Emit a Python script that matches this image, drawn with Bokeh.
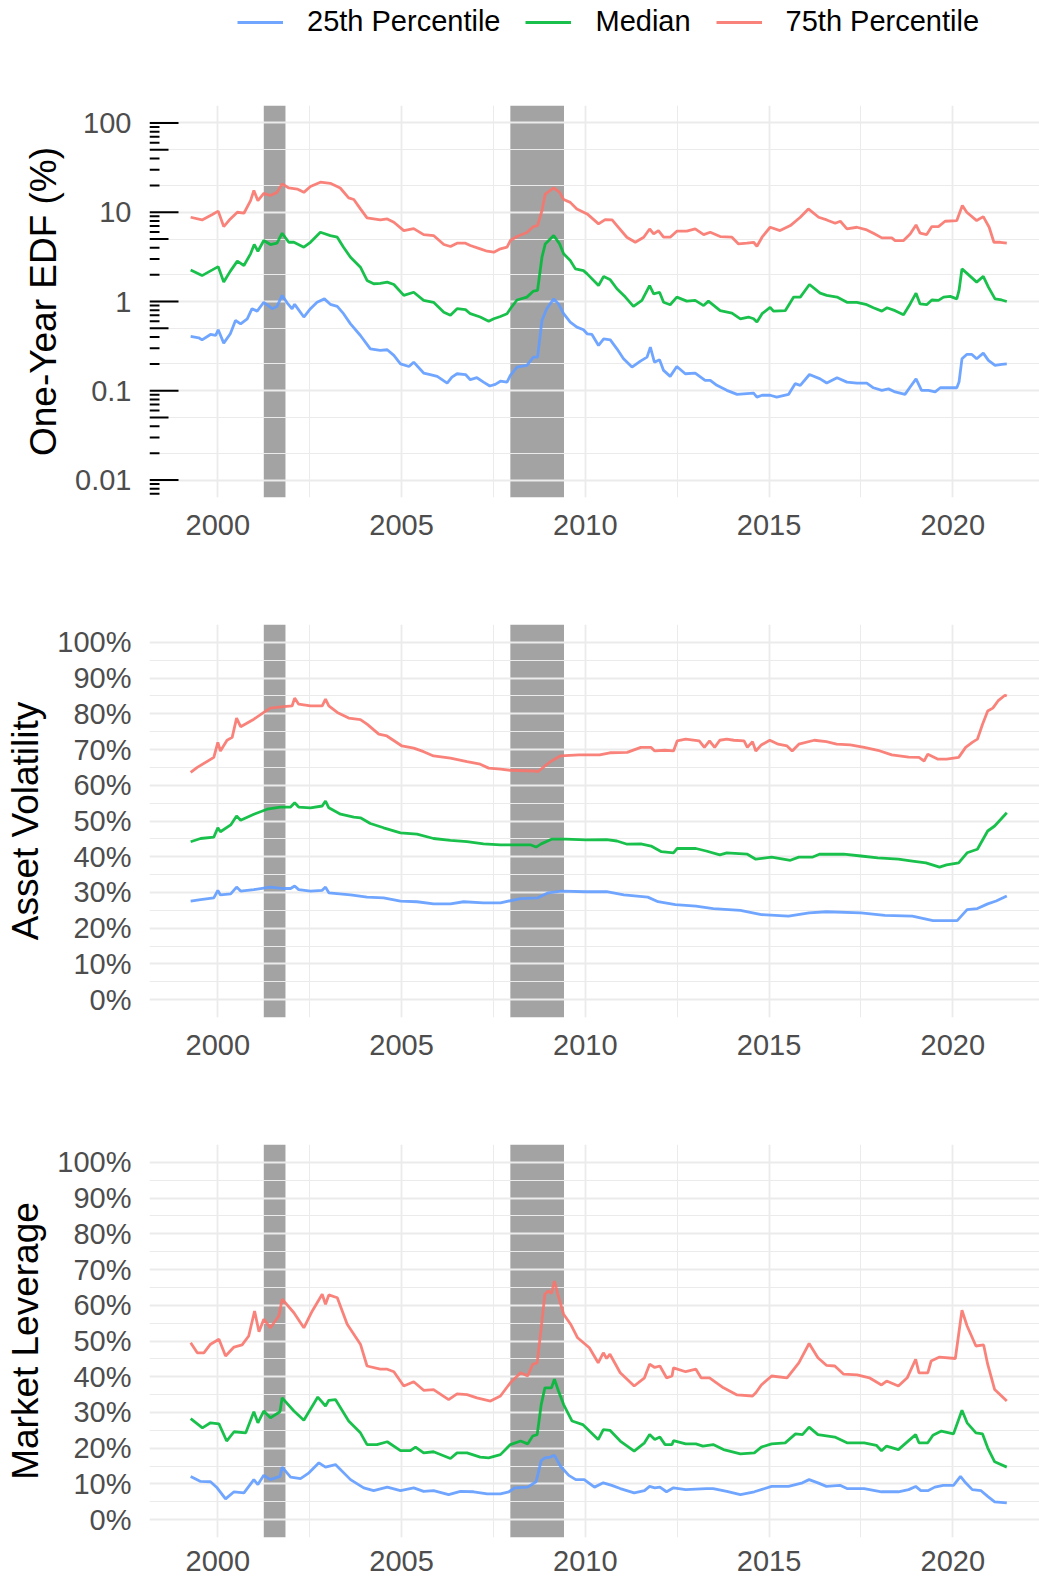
from bokeh.plotting import figure
from bokeh.models import (Range1d, FixedTicker, NumeralTickFormatter, CustomJSTickFormatter,
                          BoxAnnotation, Legend, LegendItem)
from bokeh.layouts import column
from bokeh.embed import file_html
from bokeh.resources import INLINE

FONT = "Liberation Sans"
C25, CMED, C75 = "#619CFF", "#00BA38", "#F8766D"
LABELS = ["25th Percentile", "Median", "75th Percentile"]

REC_START = [2001.25, 2007.96]
REC_END = [2001.84, 2009.42]

X_START, X_END = 1998.14, 2022.36
X_TICKS = [2000, 2005, 2010, 2015, 2020]
X_MINOR = [2002.5, 2007.5, 2012.5, 2017.5]

EDF_TICKS = [0.01, 0.1, 1, 10, 100]
EDF_MINOR = [0.02, 0.05, 0.2, 0.5, 2, 5, 20, 50]
EDF_LO, EDF_HI = 10 ** -2.196, 10 ** 2.196
PCT_TICKS = [0.0, 0.1, 0.2, 0.3, 0.4, 0.5, 0.6, 0.7, 0.8, 0.9, 1.0]
PCT_MINOR = [-0.05, 0.05, 0.15, 0.25, 0.35, 0.45, 0.55, 0.65, 0.75, 0.85, 0.95, 1.05]

# ---------------- One-Year EDF (%) ----------------
edf75_x = [1999.26, 1999.57, 1999.85, 2000.01, 2000.16, 2000.34, 2000.53, 2000.71, 2000.89, 2000.98,
           2001.09, 2001.25, 2001.43, 2001.61, 2001.75, 2001.93, 2002.16, 2002.34, 2002.52, 2002.79,
           2003.06, 2003.33, 2003.56, 2003.70, 2003.88, 2004.06, 2004.42, 2004.61, 2004.79, 2005.06,
           2005.33, 2005.60, 2005.87, 2006.15, 2006.33, 2006.51, 2006.74, 2006.87, 2007.14, 2007.33,
           2007.51, 2007.69, 2007.87, 2007.96, 2008.14, 2008.41, 2008.59, 2008.70, 2008.82, 2008.91,
           2009.14, 2009.30, 2009.41, 2009.59, 2009.77, 2010.05, 2010.36, 2010.54, 2010.73, 2010.86,
           2011.13, 2011.36, 2011.59, 2011.75, 2011.86, 2011.99, 2012.13, 2012.31, 2012.49, 2012.76,
           2012.99, 2013.22, 2013.40, 2013.67, 2013.99, 2014.17, 2014.40, 2014.58, 2014.67, 2014.81,
           2015.03, 2015.30, 2015.58, 2015.85, 2016.07, 2016.35, 2016.57, 2016.80, 2016.94, 2017.12,
           2017.39, 2017.66, 2017.84, 2018.07, 2018.34, 2018.43, 2018.66, 2018.84, 2019.00, 2019.11,
           2019.29, 2019.43, 2019.61, 2019.79, 2020.11, 2020.26, 2020.38, 2020.65, 2020.83, 2020.99,
           2021.12, 2021.29, 2021.47]
edf75_y = [8.79, 8.2, 9.42, 10.3, 6.91, 8.42, 10.0, 9.75, 13.5, 17.5,
           13.5, 16.3, 15.4, 16.7, 20.8, 18.7, 18.2, 16.7, 19.4, 21.7,
           21.1, 18.7, 14.5, 13.9, 10.9, 8.64, 8.2, 8.42, 7.73, 6.23,
           6.56, 5.62, 5.48, 4.35, 4.13, 4.5, 4.5, 4.24, 3.89, 3.66,
           3.57, 3.89, 4.06, 4.82, 5.34, 5.92, 6.91, 7.09, 10.4, 16.0,
           18.7, 16.7, 13.9, 12.9, 10.9, 9.58, 7.4, 8.28, 8.2, 7.09,
           5.25, 4.61, 5.25, 6.5, 5.72, 6.23, 5.25, 5.25, 6.13, 6.13,
           6.5, 5.62, 5.97, 5.34, 5.25, 4.42, 4.5, 4.61, 4.16, 5.25,
           6.79, 6.23, 7.09, 8.79, 10.9, 8.79, 8.2, 7.53, 7.93, 6.5,
           6.79, 6.34, 5.82, 5.16, 5.16, 4.82, 4.82, 5.72, 7.21, 5.82,
           5.62, 6.91, 6.91, 7.93, 8.07, 11.9, 10.0, 8.07, 8.94, 6.79,
           4.61, 4.61, 4.5]

edfmed_x = [1999.26, 1999.57, 1999.85, 2000.01, 2000.16, 2000.34, 2000.53, 2000.71, 2000.89, 2000.99,
            2001.09, 2001.25, 2001.43, 2001.61, 2001.75, 2001.93, 2002.07, 2002.34, 2002.52, 2002.79,
            2003.06, 2003.25, 2003.42, 2003.61, 2003.88, 2004.06, 2004.24, 2004.42, 2004.61, 2004.79,
            2005.06, 2005.33, 2005.60, 2005.87, 2006.15, 2006.33, 2006.51, 2006.74, 2006.87, 2007.14,
            2007.37, 2007.51, 2007.69, 2007.87, 2007.96, 2008.14, 2008.41, 2008.59, 2008.70, 2008.82,
            2008.91, 2009.14, 2009.30, 2009.41, 2009.59, 2009.73, 2009.95, 2010.05, 2010.36, 2010.50,
            2010.68, 2010.86, 2011.09, 2011.31, 2011.54, 2011.75, 2011.86, 2012.02, 2012.13, 2012.31,
            2012.49, 2012.76, 2012.99, 2013.22, 2013.35, 2013.67, 2013.99, 2014.22, 2014.44, 2014.58,
            2014.67, 2014.81, 2015.03, 2015.12, 2015.44, 2015.67, 2015.85, 2016.10, 2016.39, 2016.57,
            2016.85, 2017.12, 2017.39, 2017.66, 2017.84, 2018.07, 2018.21, 2018.43, 2018.66, 2018.84,
            2019.00, 2019.11, 2019.29, 2019.43, 2019.61, 2019.75, 2019.93, 2020.11, 2020.17, 2020.25,
            2020.38, 2020.65, 2020.83, 2020.97, 2021.15, 2021.33, 2021.47]
edfmed_y = [2.26, 1.95, 2.26, 2.46, 1.65, 2.19, 2.83, 2.53, 3.42, 4.35,
            3.66, 4.82, 4.35, 4.5, 5.82, 4.61, 4.61, 4.06, 4.61, 5.97,
            5.48, 5.25, 4.06, 3.13, 2.42, 1.72, 1.58, 1.6, 1.65, 1.55,
            1.17, 1.27, 1.03, 0.98, 0.76, 0.70, 0.83, 0.81, 0.73, 0.67,
            0.60, 0.64, 0.68, 0.73, 0.83, 1.04, 1.12, 1.31, 1.33, 3.13,
            4.42, 5.48, 4.42, 3.42, 2.88, 2.32, 2.22, 2.04, 1.51, 1.91,
            1.75, 1.39, 1.12, 0.88, 1.03, 1.51, 1.22, 1.27, 0.98, 0.92,
            1.12, 1.01, 1.03, 0.90, 1.01, 0.79, 0.74, 0.64, 0.67, 0.64,
            0.59, 0.73, 0.86, 0.78, 0.79, 1.12, 1.12, 1.55, 1.24, 1.17,
            1.12, 0.98, 0.98, 0.92, 0.85, 0.78, 0.85, 0.79, 0.71, 0.94,
            1.24, 0.94, 0.92, 1.04, 1.03, 1.12, 1.14, 1.07, 1.33, 2.32,
            2.08, 1.65, 1.91, 1.45, 1.07, 1.04, 1.0]

edf25_x = [1999.26, 1999.48, 1999.57, 1999.80, 1999.94, 2000.01, 2000.16, 2000.34, 2000.48, 2000.62,
           2000.80, 2000.93, 2001.07, 2001.25, 2001.48, 2001.61, 2001.75, 2001.89, 2002.02, 2002.09,
           2002.34, 2002.52, 2002.70, 2002.90, 2003.06, 2003.25, 2003.42, 2003.61, 2003.88, 2004.15,
           2004.42, 2004.61, 2004.79, 2004.97, 2005.20, 2005.33, 2005.60, 2005.78, 2005.97, 2006.24,
           2006.37, 2006.51, 2006.74, 2006.87, 2007.05, 2007.23, 2007.40, 2007.55, 2007.69, 2007.87,
           2007.96, 2008.14, 2008.41, 2008.59, 2008.70, 2008.82, 2008.95, 2009.14, 2009.27, 2009.41,
           2009.59, 2009.77, 2009.95, 2010.05, 2010.18, 2010.36, 2010.50, 2010.68, 2010.86, 2011.04,
           2011.27, 2011.50, 2011.68, 2011.77, 2011.88, 2012.02, 2012.13, 2012.31, 2012.49, 2012.72,
           2012.99, 2013.26, 2013.40, 2013.58, 2013.85, 2014.13, 2014.40, 2014.58, 2014.67, 2014.81,
           2015.03, 2015.21, 2015.53, 2015.71, 2015.85, 2016.10, 2016.39, 2016.57, 2016.85, 2017.12,
           2017.39, 2017.66, 2017.84, 2018.07, 2018.25, 2018.43, 2018.70, 2018.84, 2019.00, 2019.15,
           2019.34, 2019.52, 2019.66, 2019.93, 2020.11, 2020.17, 2020.25, 2020.38, 2020.52, 2020.65,
           2020.83, 2020.97, 2021.15, 2021.33, 2021.47]
edf25_y = [0.406, 0.392, 0.372, 0.427, 0.416, 0.482, 0.342, 0.435, 0.612, 0.562,
           0.64, 0.83, 0.78, 0.98, 0.83, 0.88, 1.17, 0.96, 0.83, 0.93,
           0.67, 0.83, 0.98, 1.07, 0.93, 0.88, 0.73, 0.562, 0.416, 0.295,
           0.283, 0.288, 0.249, 0.200, 0.187, 0.209, 0.158, 0.152, 0.145, 0.122,
           0.142, 0.155, 0.152, 0.133, 0.140, 0.125, 0.113, 0.118, 0.128, 0.125,
           0.149, 0.184, 0.192, 0.238, 0.238, 0.612, 0.83, 1.07, 0.94, 0.73,
           0.587, 0.516, 0.482, 0.435, 0.427, 0.322, 0.382, 0.372, 0.295, 0.228,
           0.184, 0.215, 0.238, 0.308, 0.209, 0.222, 0.169, 0.145, 0.187, 0.155,
           0.158, 0.131, 0.131, 0.115, 0.101, 0.091, 0.093, 0.094, 0.085, 0.089,
           0.089, 0.085, 0.091, 0.120, 0.115, 0.152, 0.136, 0.122, 0.140, 0.125,
           0.122, 0.122, 0.108, 0.101, 0.105, 0.097, 0.091, 0.110, 0.136, 0.101,
           0.101, 0.097, 0.108, 0.108, 0.108, 0.125, 0.228, 0.255, 0.255, 0.228,
           0.264, 0.219, 0.192, 0.197, 0.200]

# ---------------- Asset Volatility ----------------
vol75_x = [1999.26, 1999.44, 1999.89, 2000.00, 2000.07, 2000.25, 2000.39, 2000.51, 2000.62, 2000.98,
           2001.25, 2001.43, 2001.79, 2002.02, 2002.09, 2002.20, 2002.52, 2002.84, 2002.93, 2003.02,
           2003.25, 2003.56, 2003.88, 2004.06, 2004.38, 2004.60, 2005.01, 2005.33, 2005.60, 2005.87,
           2006.33, 2006.78, 2007.14, 2007.37, 2007.69, 2007.96, 2008.62, 2008.71, 2008.90, 2009.08,
           2009.32, 2009.83, 2010.39, 2010.67, 2011.14, 2011.51, 2011.79, 2011.89, 2012.17, 2012.40,
           2012.50, 2012.73, 2013.10, 2013.24, 2013.38, 2013.52, 2013.66, 2013.85, 2014.04, 2014.32,
           2014.41, 2014.55, 2014.64, 2014.79, 2015.02, 2015.25, 2015.49, 2015.63, 2015.81, 2016.23,
           2016.56, 2016.84, 2017.21, 2017.59, 2017.96, 2018.34, 2018.80, 2019.08, 2019.22, 2019.32,
           2019.60, 2019.83, 2020.16, 2020.35, 2020.53, 2020.67, 2020.81, 2020.95, 2021.09, 2021.23,
           2021.42, 2021.47]
vol75_y = [0.636, 0.650, 0.678, 0.720, 0.696, 0.726, 0.734, 0.788, 0.764, 0.785,
           0.804, 0.816, 0.820, 0.822, 0.844, 0.827, 0.822, 0.822, 0.841, 0.822,
           0.804, 0.788, 0.784, 0.771, 0.743, 0.738, 0.710, 0.704, 0.694, 0.682,
           0.676, 0.666, 0.659, 0.648, 0.645, 0.642, 0.640, 0.638, 0.654, 0.668,
           0.682, 0.685, 0.685, 0.691, 0.692, 0.706, 0.706, 0.696, 0.698, 0.696,
           0.724, 0.729, 0.724, 0.706, 0.724, 0.706, 0.726, 0.729, 0.726, 0.724,
           0.706, 0.722, 0.696, 0.713, 0.726, 0.715, 0.710, 0.696, 0.715, 0.726,
           0.722, 0.715, 0.713, 0.706, 0.698, 0.685, 0.679, 0.678, 0.668, 0.687,
           0.673, 0.673, 0.678, 0.706, 0.720, 0.729, 0.771, 0.808, 0.816, 0.836,
           0.852, 0.850]

volmed_x = [1999.26, 1999.53, 1999.89, 2000.00, 2000.07, 2000.35, 2000.51, 2000.62, 2000.98, 2001.34,
            2001.70, 2001.98, 2002.09, 2002.20, 2002.52, 2002.84, 2002.93, 2003.02, 2003.34, 2003.70,
            2003.88, 2004.15, 2004.51, 2004.97, 2005.42, 2005.87, 2006.33, 2006.78, 2007.23, 2007.69,
            2008.52, 2008.66, 2008.80, 2009.08, 2009.46, 2010.02, 2010.58, 2010.86, 2011.14, 2011.51,
            2011.79, 2012.07, 2012.40, 2012.50, 2013.01, 2013.29, 2013.66, 2013.85, 2014.41, 2014.64,
            2015.07, 2015.58, 2015.81, 2016.19, 2016.37, 2017.03, 2017.50, 2017.96, 2018.52, 2018.90,
            2019.27, 2019.64, 2019.83, 2020.16, 2020.39, 2020.67, 2020.95, 2021.14, 2021.47]
volmed_y = [0.442, 0.451, 0.455, 0.481, 0.470, 0.489, 0.514, 0.502, 0.519, 0.533,
            0.539, 0.539, 0.551, 0.539, 0.537, 0.542, 0.556, 0.537, 0.519, 0.511,
            0.509, 0.493, 0.481, 0.467, 0.463, 0.451, 0.446, 0.442, 0.436, 0.433,
            0.433, 0.427, 0.436, 0.449, 0.449, 0.447, 0.448, 0.444, 0.435, 0.436,
            0.430, 0.414, 0.411, 0.423, 0.423, 0.416, 0.405, 0.411, 0.407, 0.393,
            0.399, 0.390, 0.399, 0.399, 0.407, 0.407, 0.402, 0.397, 0.393, 0.388,
            0.383, 0.371, 0.377, 0.383, 0.411, 0.421, 0.472, 0.486, 0.523]

vol25_x = [1999.26, 1999.53, 1999.89, 2000.00, 2000.07, 2000.35, 2000.51, 2000.62, 2000.98, 2001.43,
           2001.79, 2001.98, 2002.09, 2002.20, 2002.52, 2002.84, 2002.93, 2003.02, 2003.61, 2004.06,
           2004.51, 2004.97, 2005.42, 2005.87, 2006.33, 2006.69, 2007.23, 2007.69, 2008.24, 2008.71,
           2008.99, 2009.36, 2010.02, 2010.58, 2011.05, 2011.70, 2011.98, 2012.45, 2013.01, 2013.48,
           2014.22, 2014.79, 2015.53, 2016.09, 2016.56, 2017.50, 2018.15, 2018.90, 2019.46, 2020.12,
           2020.39, 2020.67, 2020.95, 2021.18, 2021.47]
vol25_y = [0.276, 0.280, 0.285, 0.306, 0.293, 0.296, 0.315, 0.304, 0.308, 0.315,
           0.311, 0.311, 0.318, 0.308, 0.304, 0.306, 0.315, 0.299, 0.293, 0.287,
           0.285, 0.276, 0.274, 0.268, 0.268, 0.274, 0.271, 0.271, 0.283, 0.285,
           0.299, 0.304, 0.302, 0.302, 0.293, 0.287, 0.274, 0.266, 0.262, 0.255,
           0.250, 0.238, 0.234, 0.243, 0.246, 0.243, 0.236, 0.234, 0.221, 0.221,
           0.252, 0.255, 0.268, 0.276, 0.290]

# ---------------- Market Leverage ----------------
lev75_x = [1999.26, 1999.44, 1999.62, 1999.80, 2000.03, 2000.21, 2000.44, 2000.66, 2000.84, 2001.00,
           2001.12, 2001.25, 2001.43, 2001.66, 2001.75, 2002.07, 2002.34, 2002.57, 2002.84, 2002.93,
           2003.02, 2003.25, 2003.52, 2003.88, 2004.06, 2004.42, 2004.61, 2004.79, 2005.06, 2005.33,
           2005.60, 2005.87, 2006.28, 2006.51, 2006.78, 2007.05, 2007.42, 2007.69, 2007.96, 2008.24,
           2008.43, 2008.57, 2008.69, 2008.80, 2008.90, 2008.99, 2009.08, 2009.16, 2009.25, 2009.41,
           2009.60, 2009.79, 2010.11, 2010.35, 2010.49, 2010.58, 2010.67, 2010.95, 2011.33, 2011.61,
           2011.75, 2011.89, 2012.03, 2012.21, 2012.36, 2012.40, 2012.73, 2013.01, 2013.15, 2013.38,
           2013.76, 2014.13, 2014.55, 2014.64, 2014.79, 2015.07, 2015.49, 2015.81, 2016.09, 2016.33,
           2016.56, 2016.79, 2017.03, 2017.40, 2017.73, 2018.06, 2018.20, 2018.52, 2018.76, 2018.99,
           2019.08, 2019.32, 2019.41, 2019.64, 2020.07, 2020.25, 2020.39, 2020.63, 2020.84, 2020.95,
           2021.14, 2021.47]
lev75_y = [0.495, 0.467, 0.467, 0.491, 0.505, 0.458, 0.483, 0.489, 0.514, 0.584,
           0.526, 0.561, 0.537, 0.570, 0.617, 0.579, 0.537, 0.584, 0.631, 0.603,
           0.629, 0.621, 0.547, 0.491, 0.430, 0.421, 0.421, 0.414, 0.374, 0.386,
           0.362, 0.364, 0.336, 0.352, 0.350, 0.341, 0.332, 0.346, 0.383, 0.411,
           0.402, 0.435, 0.439, 0.537, 0.631, 0.640, 0.633, 0.668, 0.631, 0.575,
           0.547, 0.509, 0.481, 0.439, 0.467, 0.451, 0.463, 0.411, 0.374, 0.397,
           0.435, 0.426, 0.430, 0.397, 0.402, 0.425, 0.414, 0.421, 0.397, 0.397,
           0.369, 0.349, 0.346, 0.355, 0.377, 0.402, 0.397, 0.439, 0.493, 0.453,
           0.432, 0.430, 0.407, 0.405, 0.397, 0.377, 0.388, 0.374, 0.397, 0.449,
           0.411, 0.411, 0.444, 0.455, 0.451, 0.586, 0.542, 0.486, 0.489, 0.435,
           0.364, 0.332]

levmed_x = [1999.26, 1999.58, 1999.80, 2000.03, 2000.24, 2000.44, 2000.76, 2000.98, 2001.09, 2001.25,
            2001.43, 2001.69, 2001.75, 2002.07, 2002.34, 2002.72, 2002.93, 2003.02, 2003.20, 2003.56,
            2003.88, 2004.06, 2004.33, 2004.61, 2004.97, 2005.24, 2005.38, 2005.60, 2005.87, 2006.33,
            2006.51, 2006.78, 2007.14, 2007.37, 2007.69, 2007.96, 2008.24, 2008.43, 2008.57, 2008.69,
            2008.80, 2008.90, 2009.08, 2009.16, 2009.27, 2009.41, 2009.64, 2009.93, 2010.35, 2010.49,
            2010.67, 2010.95, 2011.33, 2011.61, 2011.75, 2011.89, 2012.03, 2012.17, 2012.36, 2012.40,
            2012.73, 2013.01, 2013.20, 2013.48, 2013.76, 2014.22, 2014.60, 2014.79, 2015.07, 2015.44,
            2015.72, 2015.91, 2016.09, 2016.33, 2016.79, 2017.12, 2017.59, 2017.92, 2018.06, 2018.20,
            2018.52, 2018.80, 2018.99, 2019.08, 2019.32, 2019.46, 2019.69, 2020.02, 2020.25, 2020.39,
            2020.63, 2020.81, 2020.95, 2021.14, 2021.47]
levmed_y = [0.283, 0.257, 0.271, 0.268, 0.220, 0.246, 0.243, 0.302, 0.271, 0.304,
            0.285, 0.302, 0.341, 0.304, 0.278, 0.343, 0.318, 0.334, 0.336, 0.276,
            0.243, 0.210, 0.210, 0.218, 0.193, 0.193, 0.203, 0.187, 0.190, 0.171,
            0.187, 0.187, 0.175, 0.173, 0.182, 0.210, 0.220, 0.212, 0.234, 0.238,
            0.322, 0.369, 0.369, 0.393, 0.360, 0.322, 0.276, 0.266, 0.224, 0.252,
            0.250, 0.220, 0.192, 0.215, 0.238, 0.224, 0.231, 0.210, 0.210, 0.221,
            0.212, 0.212, 0.206, 0.210, 0.196, 0.184, 0.187, 0.203, 0.212, 0.215,
            0.240, 0.238, 0.259, 0.238, 0.231, 0.215, 0.215, 0.208, 0.193, 0.206,
            0.196, 0.221, 0.238, 0.215, 0.215, 0.236, 0.248, 0.240, 0.306, 0.271,
            0.243, 0.240, 0.201, 0.162, 0.147]

lev25_x = [1999.26, 1999.53, 1999.80, 1999.98, 2000.21, 2000.44, 2000.71, 2000.98, 2001.09, 2001.25,
           2001.43, 2001.69, 2001.75, 2001.98, 2002.25, 2002.48, 2002.75, 2002.93, 2003.20, 2003.61,
           2003.97, 2004.24, 2004.61, 2004.97, 2005.33, 2005.60, 2005.87, 2006.28, 2006.60, 2006.96,
           2007.33, 2007.69, 2007.92, 2008.08, 2008.43, 2008.66, 2008.80, 2008.90, 2009.04, 2009.16,
           2009.32, 2009.55, 2009.74, 2009.97, 2010.25, 2010.49, 2010.72, 2010.95, 2011.33, 2011.61,
           2011.75, 2011.89, 2012.03, 2012.21, 2012.40, 2012.73, 2013.29, 2013.48, 2013.85, 2014.22,
           2014.60, 2015.07, 2015.53, 2015.91, 2016.09, 2016.33, 2016.56, 2016.93, 2017.12, 2017.59,
           2018.06, 2018.52, 2018.80, 2018.99, 2019.13, 2019.32, 2019.51, 2019.74, 2020.02, 2020.21,
           2020.35, 2020.53, 2020.77, 2020.95, 2021.14, 2021.47]
lev25_y = [0.121, 0.107, 0.106, 0.089, 0.058, 0.078, 0.075, 0.112, 0.098, 0.124,
           0.112, 0.121, 0.147, 0.119, 0.115, 0.131, 0.159, 0.147, 0.154, 0.112,
           0.089, 0.081, 0.091, 0.081, 0.089, 0.079, 0.081, 0.070, 0.079, 0.078,
           0.072, 0.072, 0.078, 0.089, 0.091, 0.106, 0.165, 0.173, 0.175, 0.180,
           0.150, 0.124, 0.112, 0.112, 0.091, 0.103, 0.096, 0.087, 0.075, 0.081,
           0.093, 0.089, 0.091, 0.078, 0.089, 0.084, 0.087, 0.087, 0.079, 0.070,
           0.078, 0.093, 0.093, 0.103, 0.112, 0.103, 0.093, 0.096, 0.087, 0.087,
           0.078, 0.078, 0.084, 0.093, 0.081, 0.081, 0.091, 0.096, 0.096, 0.121,
           0.103, 0.084, 0.081, 0.065, 0.050, 0.047]

# log tick marks (annotation_logticks style)
LOG_LONG = [0.01, 0.1, 1, 10, 100]
LOG_MID = [0.05, 0.5, 5, 50]
LOG_SHORT = [m * 10.0 ** k for k in range(-3, 2) for m in (2, 3, 4, 6, 7, 8, 9)
             if EDF_LO <= m * 10.0 ** k <= EDF_HI]

W = 1039
BORDER_L = 149
GRID = "#EBEBEB"
TICK_COL = "#4D4D4D"
LW = 2.8


def make_panel(height, b_top, b_bottom, y_range, y_type, title, x_standoff):
    p = figure(width=W, height=height, x_range=Range1d(X_START, X_END), y_range=y_range,
               y_axis_type=y_type, output_backend="svg", toolbar_location=None,
               min_border_left=BORDER_L, min_border_right=0, min_border_top=b_top,
               min_border_bottom=b_bottom)
    p.outline_line_color = None
    p.background_fill_color = "white"
    p.border_fill_color = "white"
    for ax in (p.xaxis[0], p.yaxis[0]):
        ax.axis_line_color = None
        ax.major_tick_out = 0
        ax.major_tick_in = 0
        ax.minor_tick_out = 0
        ax.minor_tick_in = 0
        ax.major_label_text_font = FONT
        ax.major_label_text_font_size = "29px"
        ax.major_label_text_color = TICK_COL
    p.xaxis.ticker = FixedTicker(ticks=X_TICKS, minor_ticks=X_MINOR)
    p.xaxis.major_label_standoff = x_standoff
    p.yaxis.major_label_standoff = 18
    p.yaxis.axis_label = title
    p.yaxis.axis_label_text_font = FONT
    p.yaxis.axis_label_text_font_size = "37px"
    p.yaxis.axis_label_text_font_style = "normal"
    p.yaxis.axis_label_text_color = "black"
    p.yaxis.axis_label_standoff = 8
    p.xgrid.ticker = FixedTicker(ticks=X_TICKS, minor_ticks=X_MINOR)
    for g in (p.xgrid[0], p.ygrid[0]):
        g.grid_line_color = GRID
        g.grid_line_width = 1.8
        g.minor_grid_line_color = GRID
        g.minor_grid_line_width = 1.0
    for s, e in zip(REC_START, REC_END):
        p.add_layout(BoxAnnotation(left=s, right=e, fill_color="#A3A3A3", fill_alpha=1.0,
                                   line_color=None, level="image"))
    return p


def add_lines(p, xs25, ys25, xsm, ysm, xs75, ys75, lw=LW):
    r25 = p.line(xs25, ys25, line_color=C25, line_width=lw, line_alpha=0.9)
    rm = p.line(xsm, ysm, line_color=CMED, line_width=lw, line_alpha=0.9)
    r75 = p.line(xs75, ys75, line_color=C75, line_width=lw, line_alpha=0.9)
    return r25, rm, r75


# Legend strip on top; its frame is aligned with the panels' frames (left edge at 149 px)
LEG_H = 60
pl = figure(width=W, height=LEG_H, x_range=Range1d(0, 1), y_range=Range1d(0, 1),
            output_backend="svg", toolbar_location=None, x_axis_location=None,
            y_axis_location=None, min_border_left=BORDER_L, min_border_right=0,
            min_border_top=0, min_border_bottom=0)
pl.outline_line_color = None
pl.xgrid.visible = False
pl.ygrid.visible = False
# legend carriers: the EDF series themselves, which fall outside this strip's 0..1 ranges
k25, kmed, k75 = add_lines(pl, edf25_x, edf25_y, edfmed_x, edfmed_y, edf75_x, edf75_y, lw=3)
legend = Legend(items=[LegendItem(label=LABELS[0], renderers=[k25]),
                       LegendItem(label=LABELS[1], renderers=[kmed]),
                       LegendItem(label=LABELS[2], renderers=[k75])],
                orientation="horizontal", location=(88, 22),
                label_text_font=FONT, label_text_font_size="29px", label_text_color="black",
                glyph_width=46, glyph_height=32, label_height=32, label_standoff=24, spacing=25,
                padding=0, margin=0, background_fill_alpha=0, border_line_alpha=0)
pl.add_layout(legend)

# Panel 1
p1 = make_panel(497, 45, 60, Range1d(EDF_LO, EDF_HI), "log", "One-Year EDF (%)", 17)
p1.yaxis.ticker = FixedTicker(ticks=EDF_TICKS)
p1.yaxis.formatter = CustomJSTickFormatter(code="return tick.toString();")
p1.ygrid.ticker = FixedTicker(ticks=EDF_TICKS, minor_ticks=EDF_MINOR)
add_lines(p1, edf25_x, edf25_y, edfmed_x, edfmed_y, edf75_x, edf75_y)
for vals, ln in ((LOG_LONG, 29), (LOG_MID, 19), (LOG_SHORT, 10)):
    p1.ray(x=[X_START] * len(vals), y=vals, length=ln, length_units="screen", angle=0,
           line_color="black", line_width=2)

# Panel 2
p2 = make_panel(520, 67, 60, Range1d(-0.05, 1.05), "linear", "Asset Volatility", 17)
p2.yaxis.ticker = FixedTicker(ticks=PCT_TICKS)
p2.yaxis.formatter = NumeralTickFormatter(format="0%")
p2.ygrid.ticker = FixedTicker(ticks=PCT_TICKS, minor_ticks=PCT_MINOR)
add_lines(p2, vol25_x, vol25_y, volmed_x, volmed_y, vol75_x, vol75_y)

# Panel 3
p3 = make_panel(506, 67, 46, Range1d(-0.05, 1.05), "linear", "Market Leverage", 13)
p3.yaxis.ticker = FixedTicker(ticks=PCT_TICKS)
p3.yaxis.formatter = NumeralTickFormatter(format="0%")
p3.ygrid.ticker = FixedTicker(ticks=PCT_TICKS, minor_ticks=PCT_MINOR)
add_lines(p3, lev25_x, lev25_y, levmed_x, levmed_y, lev75_x, lev75_y)

layout = column(pl, p1, p2, p3, spacing=0)
open("out.html", "w").write(file_html(layout, INLINE))
